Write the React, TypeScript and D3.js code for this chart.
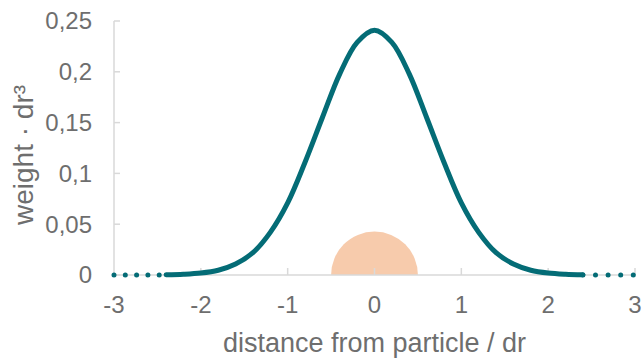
import { useEffect, useRef } from 'react'
import * as d3 from 'd3'

// distance from particle (in units of dr)
const distance = [
  -2.4, -2.2, -2.0, -1.8, -1.6, -1.4, -1.2, -1.0, -0.8, -0.6, -0.4, -0.2, 0,
  0.2, 0.4, 0.6, 0.8, 1.0, 1.2, 1.4, 1.6, 1.8, 2.0, 2.2, 2.4,
]
// kernel weight * dr^3
const weight = [
  0.0002, 0.0007, 0.0019, 0.0047, 0.0108, 0.022, 0.042, 0.071, 0.111, 0.155, 0.198, 0.229, 0.241,
  0.229, 0.198, 0.155, 0.111, 0.071, 0.042, 0.022, 0.0108, 0.0047, 0.0019, 0.0007, 0.0002,
]
// dotted tails where the kernel is cut off
const tailLeft = [-3, -2.4]
const tailRight = [2.4, 3]
// particle drawn as a half disc of radius 0.5 dr
const particleRadius = 0.5

const xTicks = [-3, -2, -1, 0, 1, 2, 3]
const yTicks = [0, 0.05, 0.1, 0.15, 0.2, 0.25]

const width = 643
const height = 360
const margin = { top: 21, right: 8, bottom: 85, left: 114 }

const teal = '#046c76'
const peach = '#f7cbac'
const axisGrey = '#d9d9d9'
const textGrey = '#6e6e6e'
const font = 'Liberation Sans, Arial, sans-serif'

const App = () => {
  const svgRef = useRef<SVGSVGElement>(null)

  useEffect(() => {
    if (!svgRef.current) return
    const svg = d3.select(svgRef.current)
    svg.selectAll('*').remove()

    const plotW = width - margin.left - margin.right
    const plotH = height - margin.top - margin.bottom

    const x = d3.scaleLinear().domain([-3, 3]).range([0, plotW])
    const y = d3.scaleLinear().domain([0, 0.25]).range([plotH, 0])

    const g = svg.append('g').attr('transform', `translate(${margin.left},${margin.top})`)

    // particle half disc
    const r = x(particleRadius) - x(0)
    const arc = d3.arc()({
      innerRadius: 0,
      outerRadius: r,
      startAngle: -Math.PI / 2,
      endAngle: Math.PI / 2,
    } as any)
    g.append('path')
      .attr('d', arc)
      .attr('transform', `translate(${x(0)},${y(0)})`)
      .attr('fill', peach)

    // axes
    g.append('line')
      .attr('x1', 0).attr('x2', 0)
      .attr('y1', y(0.25)).attr('y2', y(0))
      .attr('stroke', axisGrey).attr('stroke-width', 1.5)
    g.selectAll('.ytick')
      .data(yTicks)
      .enter()
      .append('line')
      .attr('x1', 0).attr('x2', 6)
      .attr('y1', d => y(d)).attr('y2', d => y(d))
      .attr('stroke', axisGrey).attr('stroke-width', 1.5)

    g.append('line')
      .attr('x1', x(-3)).attr('x2', x(3))
      .attr('y1', y(0)).attr('y2', y(0))
      .attr('stroke', axisGrey).attr('stroke-width', 1.5)
    g.selectAll('.xtick')
      .data(xTicks.slice(1))
      .enter()
      .append('line')
      .attr('x1', d => x(d)).attr('x2', d => x(d))
      .attr('y1', y(0)).attr('y2', y(0) - 7)
      .attr('stroke', axisGrey).attr('stroke-width', 1.5)

    const comma = (d: number) => String(d).replace('.', ',')

    g.selectAll('.ylabel')
      .data(yTicks)
      .enter()
      .append('text')
      .attr('x', -22)
      .attr('y', d => y(d))
      .attr('dy', '0.35em')
      .attr('text-anchor', 'end')
      .attr('font-family', font)
      .attr('font-size', 24)
      .attr('fill', textGrey)
      .text(d => comma(d))

    g.selectAll('.xlabel')
      .data(xTicks)
      .enter()
      .append('text')
      .attr('x', d => x(d))
      .attr('y', y(0) + 38)
      .attr('text-anchor', 'middle')
      .attr('font-family', font)
      .attr('font-size', 24)
      .attr('fill', textGrey)
      .text(d => String(d))

    // kernel curve
    const line = d3.line<number>()
      .x((d, i) => x(distance[i]))
      .y(d => y(d))
      .curve(d3.curveCatmullRom)

    g.append('path')
      .datum(weight)
      .attr('fill', 'none')
      .attr('stroke', teal)
      .attr('stroke-width', 5)
      .attr('stroke-linecap', 'round')
      .attr('d', line)

    const tail = d3.line<number>().x(d => x(d)).y(() => y(0))
    ;[
      { pts: tailLeft, gap: 11.3 },
      { pts: tailRight, gap: 12.6 },
    ].forEach(t => {
      g.append('path')
        .attr('d', tail(t.pts))
        .attr('fill', 'none')
        .attr('stroke', teal)
        .attr('stroke-width', 5)
        .attr('stroke-linecap', 'round')
        .attr('stroke-dasharray', `0 ${t.gap}`)
    })

    // axis titles
    svg.append('text')
      .attr('x', margin.left + x(0))
      .attr('y', 352)
      .attr('text-anchor', 'middle')
      .attr('font-family', font)
      .attr('font-size', 27)
      .attr('fill', textGrey)
      .text('distance from particle / dr')

    svg.append('text')
      .attr('transform', `translate(33,${margin.top + plotH / 2 + 7}) rotate(-90)`)
      .attr('text-anchor', 'middle')
      .attr('font-family', font)
      .attr('font-size', 28)
      .attr('fill', textGrey)
      .text('weight · dr³')
  }, [])

  return (
    <svg
      ref={svgRef}
      width={width}
      height={height}
      style={{ position: 'absolute', left: 0, top: 0, background: '#fff' }}
    />
  )
}

export default App
